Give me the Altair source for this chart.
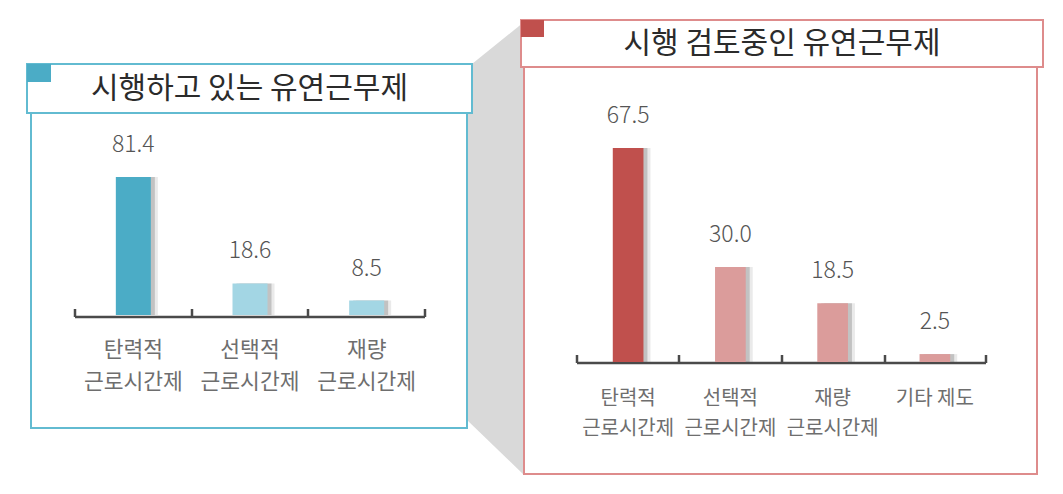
import altair as alt
import pandas as pd

# ---- data ----
left_title = "시행하고 있는 유연근무제"
left_line1 = ["탄력적", "선택적", "재량"]
left_line2 = ["근로시간제", "근로시간제", "근로시간제"]
left_values = [81.4, 18.6, 8.5]
left_labels = ["81.4", "18.6", "8.5"]

right_title = "시행 검토중인 유연근무제"
right_line1 = ["탄력적", "선택적", "재량", "기타 제도"]
right_line2 = ["근로시간제", "근로시간제", "근로시간제", ""]
right_values = [67.5, 30.0, 18.5, 2.5]
right_labels = ["67.5", "30.0", "18.5", "2.5"]

# ---- styles ----
FONT = "Noto Sans CJK KR"
left_colors = ["#4BACC6", "#A3D6E4", "#A3D6E4"]
right_colors = ["#C0504D", "#DB9C9B", "#DB9C9B", "#DB9C9B"]
left_border = "#62BBD1"
right_border = "#DE8C8C"
AXIS_C = "#4a4a4a"

one = pd.DataFrame({"d": [0]})


def rect(x, x2, y, y2, fill, stroke=None, sw=0):
    kw = dict(fill=fill, strokeWidth=sw)
    if stroke:
        kw["stroke"] = stroke
    return alt.Chart(one).mark_rect(**kw).encode(
        x=alt.value(x), x2=alt.value(x2), y=alt.value(y), y2=alt.value(y2))


def rule(x, x2, y, y2):
    return alt.Chart(one).mark_rule(color=AXIS_C, strokeWidth=2.5).encode(
        x=alt.value(x), x2=alt.value(x2), y=alt.value(y), y2=alt.value(y2))


def title(txt, x, y):
    return alt.Chart(one).mark_text(
        text=txt, font=FONT, fontSize=30, color="#2b2b2b",
        align="center", baseline="middle").encode(x=alt.value(x), y=alt.value(y))


def panel(cats, l1, l2, vals, labs, colors, xrange, yrange, y1, y2, fs):
    df = pd.DataFrame({"cat": cats, "l1": l1, "l2": l2, "v": vals, "lab": labs})
    xs = alt.Scale(domain=cats, range=xrange, paddingInner=0.7, paddingOuter=0.35)
    ys = alt.Scale(domain=[0, 100], range=yrange)
    X = alt.X("cat:N", scale=xs, axis=None, sort=cats)
    Y = alt.Y("v:Q", scale=ys, axis=None)
    base = alt.Chart(df)
    sh1 = base.mark_bar(color="#888", opacity=0.18, xOffset=7).encode(x=X, y=Y)
    sh2 = base.mark_bar(color="#666", opacity=0.3, xOffset=4).encode(x=X, y=Y)
    bars = base.mark_bar().encode(
        x=X, y=Y,
        color=alt.Color("cat:N", scale=alt.Scale(domain=cats, range=colors), legend=None))
    vt = base.mark_text(font=FONT, fontSize=23, fontWeight=300, color="#555555", dy=-32,
                        baseline="middle").encode(x=X, y=Y, text="lab:N")
    t1 = base.mark_text(font=FONT, fontSize=fs, color="#6e6e6e",
                        baseline="middle").encode(x=X, y=alt.value(y1), text="l1:N")
    t2 = base.mark_text(font=FONT, fontSize=fs, color="#6e6e6e",
                        baseline="middle").encode(x=X, y=alt.value(y2), text="l2:N")
    return alt.layer(sh1, sh2, bars, vt, t1, t2)


# connector shape (grey trapezoid)
connector = alt.Chart(one).mark_point(
    shape="M0,0L57,-46L57,407L0,352Z", size=4, filled=True,
    fill="#d9d9d9", opacity=1, strokeWidth=0).encode(x=alt.value(459), y=alt.value(60))

decor = [
    connector,
    # left panel frame
    rect(23, 459, 105, 420, "white", left_border, 2),
    rect(19, 464, 56, 105, "white", left_border, 2),
    rect(19, 43, 56, 74, "#4BACC6"),
    title(left_title, 241.5, 81),
    # right panel frame
    rect(516, 1029, 59, 466, "white", right_border, 2),
    rect(513, 1035, 12, 59, "white", right_border, 2),
    rect(513, 536, 12, 29, "#C0504D"),
    title(right_title, 774, 35.5),
]

# axis baselines with upward ticks
left_axis = [rule(67, 417, 309, 309)] + [rule(x, x, 309, 301) for x in (67, 184, 300, 417)]
right_axis = [rule(569, 978, 355, 355)] + [rule(x, x, 355, 347) for x in (569, 671, 774, 877, 978)]

left_cats = [a + b for a, b in zip(left_line1, left_line2)]
right_cats = [a + b for a, b in zip(right_line1, right_line2)]

left_panel = panel(left_cats, left_line1, left_line2, left_values, left_labels, left_colors,
                   [67, 417], [307, 137.5], 343, 375, 21.5)
right_panel = panel(right_cats, right_line1, right_line2, right_values, right_labels, right_colors,
                    [569, 978], [354, 37], 391, 421, 20)

chart = alt.layer(*decor, *left_axis, *right_axis, left_panel, right_panel).resolve_scale(
    x="independent", y="independent", color="independent"
).properties(
    width=1040, height=472, padding=0, autosize=alt.AutoSizeParams(type="none")
).configure_view(stroke=None)

chart.save("out.html", embed_options={"renderer": "svg", "actions": False})
